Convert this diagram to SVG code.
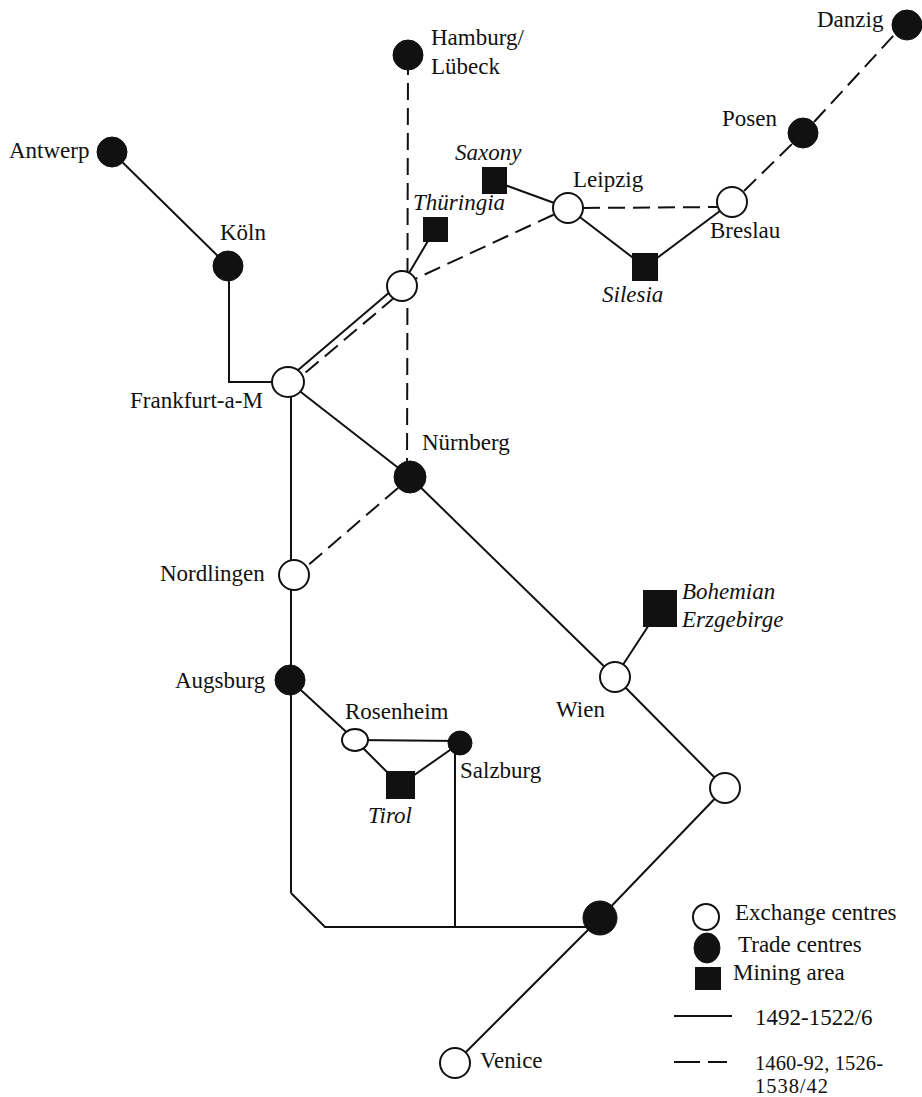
<svg xmlns="http://www.w3.org/2000/svg" width="922" height="1097" viewBox="0 0 922 1097">
<style>
.ln{stroke:#111;stroke-width:2;fill:none}
.ds{stroke:#111;stroke-width:2;fill:none;stroke-dasharray:17 8}
.ex{fill:#fff;stroke:#111;stroke-width:2}
.tr{fill:#111;stroke:#111;stroke-width:1}
.mn{fill:#111}
text{font-family:"Liberation Serif","Times New Roman",serif;font-size:23px;fill:#111}
.it{font-style:italic}
.sm{font-size:20.5px}
</style>
<rect width="922" height="1097" fill="#fff"/>
<g id="connectors">
<line class="ln" x1="112" y1="152" x2="228" y2="266"/>
<polyline class="ln" points="229,266 229,382 288,382"/>
<line class="ds" x1="408" y1="58" x2="407" y2="477"/>
<line class="ln" x1="435" y1="229" x2="402" y2="285"/>
<line class="ds" x1="402" y1="285" x2="568" y2="208"/>
<line class="ln" x1="494" y1="181" x2="568" y2="208"/>
<line class="ds" x1="583" y1="208" x2="717" y2="207"/>
<line class="ln" x1="568" y1="208" x2="645" y2="267"/>
<line class="ln" x1="645" y1="267" x2="732" y2="202"/>
<line class="ds" x1="744" y1="191" x2="792" y2="144"/>
<line class="ds" x1="814" y1="122" x2="895" y2="34"/>
<line class="ln" x1="400.4" y1="283.1" x2="286.4" y2="380.1"/>
<line class="ds" x1="395" y1="297" x2="298" y2="379"/>
<line class="ln" x1="288" y1="382" x2="410" y2="477"/>
<line class="ln" x1="410" y1="477" x2="615" y2="677"/>
<line class="ds" x1="398" y1="488" x2="306" y2="567"/>
<line class="ln" x1="291" y1="382" x2="291" y2="893"/>
<polyline class="ln" points="291,893 325,927 590,927"/>
<line class="ln" x1="290" y1="680" x2="355" y2="740"/>
<line class="ln" x1="355" y1="740" x2="460" y2="741"/>
<line class="ln" x1="355" y1="740" x2="400" y2="785"/>
<line class="ln" x1="400" y1="785" x2="460" y2="743"/>
<line class="ln" x1="455" y1="743" x2="455" y2="927"/>
<line class="ln" x1="615" y1="677" x2="660" y2="608"/>
<line class="ln" x1="615" y1="677" x2="725" y2="788"/>
<line class="ln" x1="725" y1="788" x2="600" y2="918"/>
<line class="ln" x1="600" y1="918" x2="455" y2="1063"/>
</g>
<g id="hamburg"><circle class="tr" cx="408" cy="55" r="15"/><text x="431" y="45">Hamburg/</text><text x="431" y="74">Lübeck</text></g>
<g id="antwerp"><circle class="tr" cx="112" cy="152" r="15"/><text x="9" y="158">Antwerp</text></g>
<g id="koeln"><circle class="tr" cx="228" cy="266" r="15"/><text x="220" y="240">Köln</text></g>
<g id="exchange-thuringia"><circle class="ex" cx="402" cy="286" r="15"/></g>
<g id="thuringia"><rect class="mn" x="423" y="217" width="25" height="25"/><text class="it" x="413" y="210">Thüringia</text></g>
<g id="saxony"><rect class="mn" x="482" y="167" width="25" height="27"/><text class="it" x="455" y="160">Saxony</text></g>
<g id="leipzig"><circle class="ex" cx="568" cy="208" r="15"/><text x="573" y="187">Leipzig</text></g>
<g id="silesia"><rect class="mn" x="632" y="253" width="26" height="28"/><text class="it" x="602" y="302">Silesia</text></g>
<g id="breslau"><circle class="ex" cx="732" cy="202" r="15"/><text x="710" y="238">Breslau</text></g>
<g id="posen"><circle class="tr" cx="803" cy="133" r="15"/><text x="722" y="126">Posen</text></g>
<g id="danzig"><circle class="tr" cx="907" cy="25" r="15"/><text x="817" y="27">Danzig</text></g>
<g id="frankfurt"><ellipse class="ex" cx="288" cy="382" rx="16" ry="15"/><text x="130" y="408">Frankfurt-a-M</text></g>
<g id="nuernberg"><circle class="tr" cx="410" cy="477" r="16"/><text x="422" y="450">Nürnberg</text></g>
<g id="nordlingen"><circle class="ex" cx="294" cy="575" r="15"/><text x="160" y="581">Nordlingen</text></g>
<g id="augsburg"><circle class="tr" cx="290" cy="680" r="15"/><text x="175" y="688">Augsburg</text></g>
<g id="rosenheim"><ellipse class="ex" cx="355" cy="740" rx="13" ry="11"/><text x="345" y="719">Rosenheim</text></g>
<g id="salzburg"><circle class="tr" cx="460" cy="743" r="12"/><text x="460" y="778">Salzburg</text></g>
<g id="tirol"><rect class="mn" x="386" y="771" width="29" height="28"/><text class="it" x="368" y="823">Tirol</text></g>
<g id="wien"><circle class="ex" cx="615" cy="677" r="15"/><text x="556" y="717">Wien</text></g>
<g id="bohemian"><rect class="mn" x="643" y="590" width="34" height="37"/><text class="it" x="682" y="599">Bohemian</text><text class="it" x="682" y="627">Erzgebirge</text></g>
<g id="exchange-se"><circle class="ex" cx="725" cy="788" r="15"/></g>
<g id="trade-south"><circle class="tr" cx="600" cy="918" r="17"/></g>
<g id="venice"><circle class="ex" cx="455" cy="1063" r="15"/><text x="480" y="1068">Venice</text></g>
<g id="legend">
<circle class="ex" cx="706" cy="917" r="13"/><text x="735" y="920">Exchange centres</text>
<ellipse class="tr" cx="707" cy="948" rx="13" ry="15"/><text x="738" y="952">Trade centres</text>
<rect class="mn" x="695" y="967" width="26" height="23"/><text x="733" y="980">Mining area</text>
<line class="ln" x1="674" y1="1016" x2="732" y2="1016"/><text x="755" y="1025">1492-1522/6</text>
<line class="ln" x1="674" y1="1062" x2="700" y2="1062"/><line class="ln" x1="708" y1="1062" x2="727" y2="1062"/>
<text class="sm" x="755" y="1070" textLength="128" lengthAdjust="spacing">1460-92, 1526-</text><text class="sm" x="755" y="1093" textLength="73" lengthAdjust="spacing">1538/42</text>
</g>
</svg>
